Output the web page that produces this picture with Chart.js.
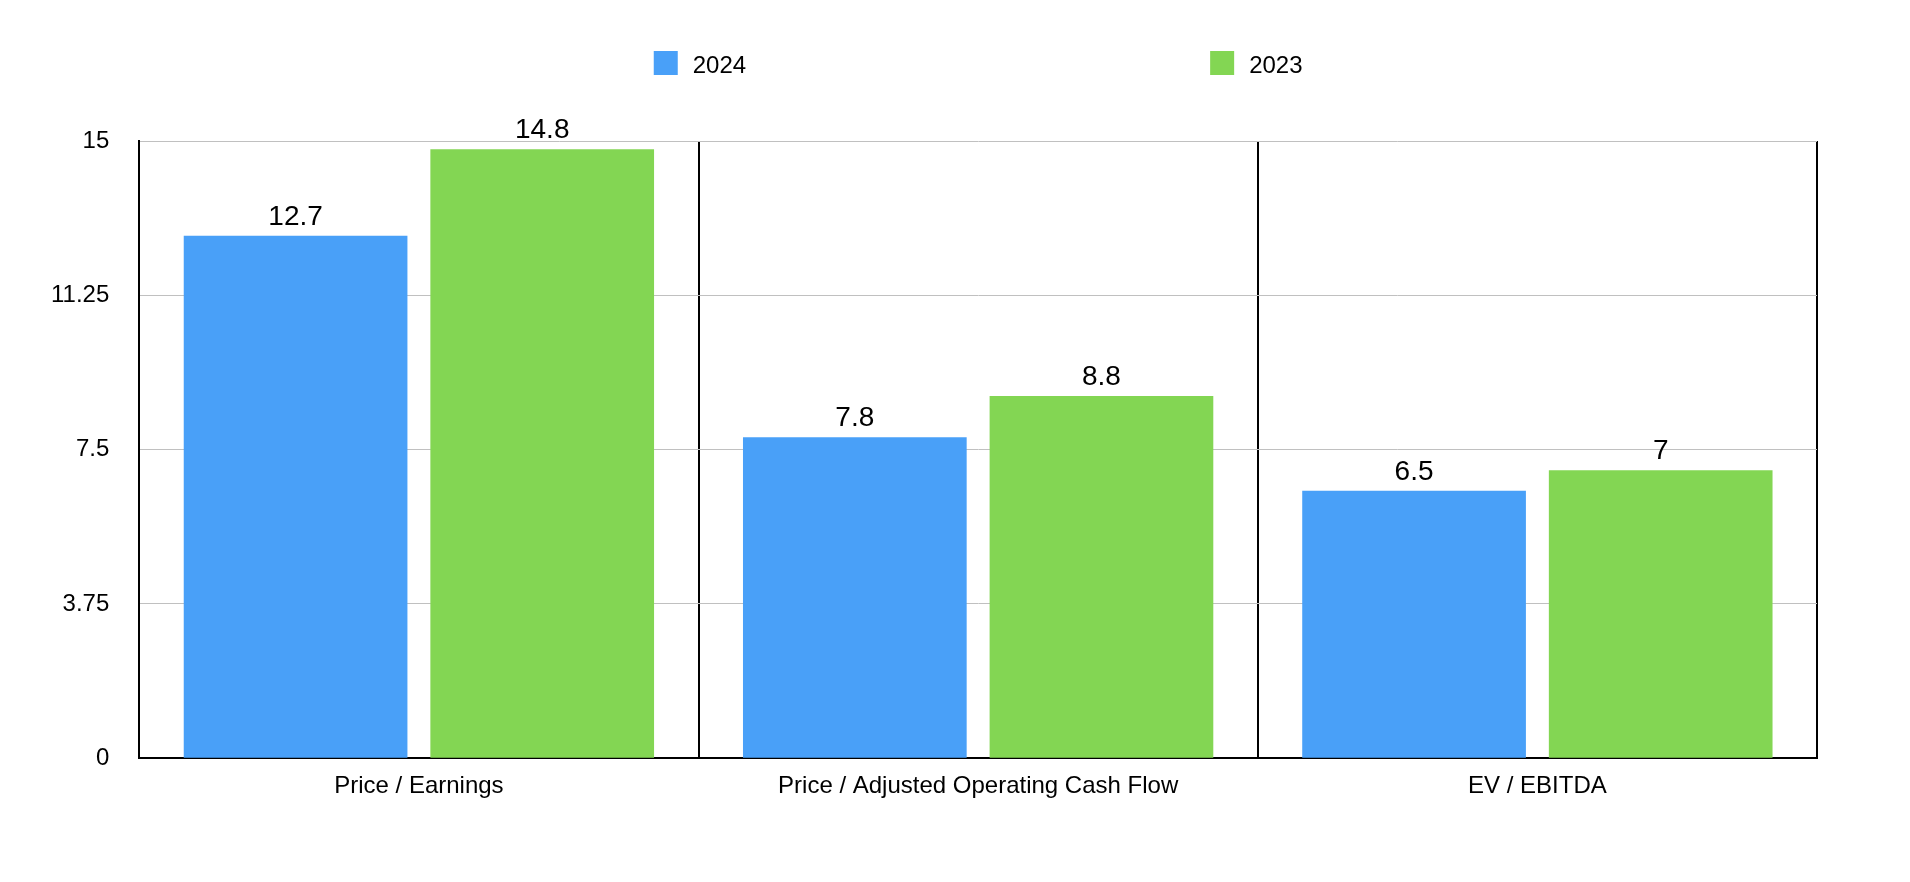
<!DOCTYPE html>
<html>
<head>
<meta charset="utf-8">
<script src="https://cdn.jsdelivr.net/npm/chart.js@4.4.1/dist/chart.umd.min.js"></script>
<style>
  html, body { margin: 0; padding: 0; background: #ffffff; }
  #wrap { width: 1910px; height: 882px; position: relative; }
</style>
</head>
<body>
<div id="wrap"><canvas id="c" width="1910" height="882"></canvas></div>
<script>
const categories = ["Price / Earnings", "Price / Adjusted Operating Cash Flow", "EV / EBITDA"];
const seriesNames = ["2024", "2023"];
const values2024 = [12.7, 7.8, 6.5];
const values2023 = [14.8, 8.8, 7];
const yTicks = [0, 3.75, 7.5, 11.25, 15];
const yTickLabels = ["0", "3.75", "7.5", "11.25", "15"];

const BLUE = "#49a0f8";
const GREEN = "#83d653";
const FONT = "'Liberation Sans', Arial, Helvetica, sans-serif";

const valueLabels = {
  id: "valueLabels",
  afterDatasetsDraw(chart) {
    const ctx = chart.ctx;
    ctx.save();
    ctx.font = "28px " + FONT;
    ctx.fillStyle = "#000";
    ctx.textAlign = "center";
    ctx.textBaseline = "alphabetic";
    chart.data.datasets.forEach((ds, i) => {
      const meta = chart.getDatasetMeta(i);
      meta.data.forEach((bar, j) => {
        ctx.fillText(String(ds.data[j]), bar.x, bar.y - 11);
      });
    });
    ctx.restore();
  }
};

const customLegend = {
  id: "customLegend",
  afterDraw(chart) {
    const ctx = chart.ctx;
    const area = chart.chartArea;
    const center = (area.left + area.right) / 2;
    ctx.save();
    ctx.font = "24px " + FONT;
    ctx.textBaseline = "alphabetic";
    ctx.textAlign = "left";
    const box = 24, gap = 15, spacing = 464;
    const widths = chart.data.datasets.map(ds => box + gap + ctx.measureText(ds.label).width);
    const total = widths.reduce((a, b) => a + b, 0) + spacing * (widths.length - 1);
    let x = center - total / 2;
    chart.data.datasets.forEach((ds, i) => {
      ctx.fillStyle = ds.backgroundColor;
      ctx.fillRect(x, 51, box, box);
      ctx.fillStyle = "#000";
      ctx.fillText(ds.label, x + box + gap, 73);
      x += widths[i] + spacing;
    });
    ctx.restore();
  }
};

new Chart(document.getElementById("c"), {
  type: "bar",
  data: {
    labels: categories,
    datasets: [
      { label: seriesNames[0], data: values2024, backgroundColor: BLUE, borderWidth: 0 },
      { label: seriesNames[1], data: values2023, backgroundColor: GREEN, borderWidth: 0 }
    ]
  },
  options: {
    responsive: false,
    animation: false,
    devicePixelRatio: 1,
    categoryPercentage: 0.882,
    barPercentage: 0.907,
    layout: { padding: { left: 21, right: 93, top: 141, bottom: 67 } },
    plugins: {
      legend: { display: false },
      tooltip: { enabled: false }
    },
    scales: {
      x: {
        offset: true,
        grid: { display: true, offset: true, color: "#000", lineWidth: 2, drawTicks: false },
        border: { display: true, color: "#000", width: 2 },
        ticks: { color: "#000", font: { family: FONT, size: 24 }, padding: 14, maxRotation: 0 }
      },
      y: {
        min: 0,
        max: 15,
        afterBuildTicks(axis) { axis.ticks = yTicks.map(v => ({ value: v })); },
        grid: { color: "#c0c0c0", lineWidth: 1, drawTicks: false },
        border: { display: true, color: "#000", width: 2 },
        ticks: {
          color: "#000", font: { family: FONT, size: 24 }, padding: 30,
          callback: (v) => { const i = yTicks.indexOf(v); return i >= 0 ? yTickLabels[i] : String(v); }
        }
      }
    }
  },
  plugins: [valueLabels, customLegend]
});
</script>
</body>
</html>
